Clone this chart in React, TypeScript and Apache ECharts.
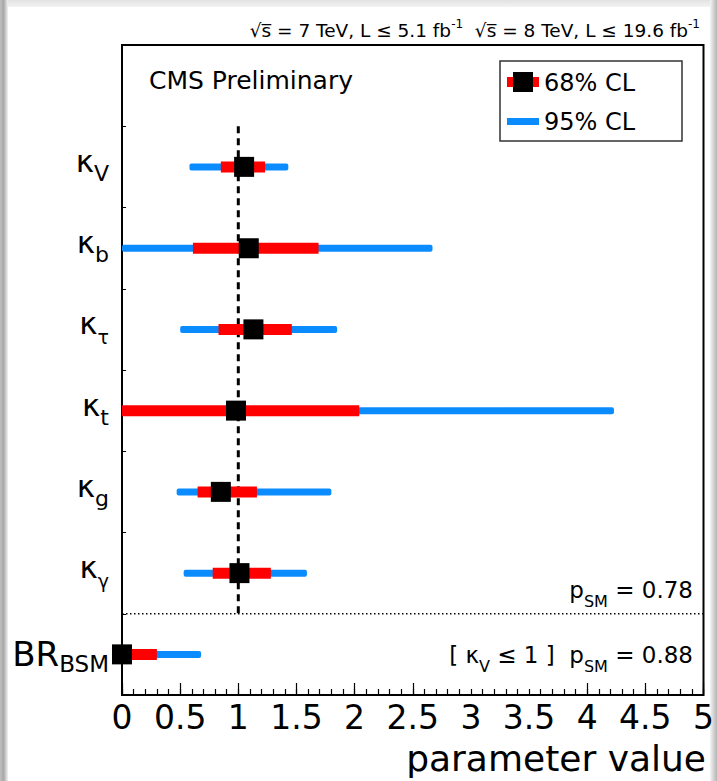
import React, { useEffect, useRef } from 'react';
import * as echarts from 'echarts';

// ---- data ----
const categories = ['kV', 'kb', 'ktau', 'kt', 'kg', 'kgamma', 'BRBSM'];
const labelMain = ['κ', 'κ', 'κ', 'κ', 'κ', 'κ', 'BR'];
const labelSub = ['V', 'b', 'τ', 't', 'g', 'γ', 'BSM'];
const bestFit = [1.05, 1.09, 1.13, 0.98, 0.85, 1.01, 0.0];
const lo68 = [0.85, 0.61, 0.83, 0.0, 0.65, 0.78, 0.0];
const hi68 = [1.23, 1.69, 1.46, 2.04, 1.16, 1.28, 0.3];
const lo95 = [0.58, 0.0, 0.5, 0.0, 0.47, 0.53, 0.0];
const hi95 = [1.43, 2.67, 1.85, 4.23, 1.8, 1.59, 0.68];
const majorTicks = [0, 0.5, 1, 1.5, 2, 2.5, 4, 4.5, 5];
const smValue = 1;
const pSM = ['0.78', '0.88'];
const xTitle = 'parameter value';

const FONT = 'DejaVu Sans';
const BLUE = '#0a8cff';
const RED = '#ff0000';

export default function App() {
  const ref = useRef<HTMLDivElement>(null);
  useEffect(() => {
    if (!ref.current) return;
    const chart = echarts.init(ref.current, null, { renderer: 'svg' });
    const nRows = categories.length;
    const rows = categories.map((_, i) => [i + 1.5, lo95[i], hi95[i], lo68[i], hi68[i], bestFit[i]]);
    const sepY = nRows; // boundary above last row
    const greek = (s: string) => /[α-ω]/.test(s);

    const option: any = {
      animation: false,
      backgroundColor: '#ffffff',
      grid: {
        left: 122, top: 45, width: 582, height: 650,
        show: true, borderColor: '#000', borderWidth: 2, backgroundColor: 'transparent',
      },
      xAxis: [
        {
          type: 'value', min: 0, max: 5, interval: 0.5, position: 'bottom',
          axisLine: { show: false, onZero: false }, splitLine: { show: false },
          axisTick: { show: true, inside: true, length: 12, lineStyle: { color: '#000', width: 1.2 }, customValues: majorTicks },
          axisLabel: { fontFamily: FONT, fontSize: 33, lineHeight: 30, color: '#000', margin: 7 },
        },
        {
          type: 'value', min: 0, max: 5, interval: 0.1, position: 'bottom',
          axisLine: { show: false, onZero: false }, splitLine: { show: false },
          axisTick: { show: true, inside: true, length: 6, lineStyle: { color: '#000', width: 1.2 } },
          axisLabel: { show: false },
        },
      ],
      yAxis: [
        { type: 'value', min: 0, max: nRows + 1, inverse: true, position: 'left', show: false },
        {
          type: 'category', data: ['', ...categories], inverse: true, position: 'left', boundaryGap: true,
          axisLine: { show: false },
          axisTick: { show: true, inside: true, length: 4, lineStyle: { color: '#000', width: 1 } },
          axisLabel: {
            interval: 0, margin: 13,
            formatter: (value: string) => {
              const i = categories.indexOf(value);
              if (i < 0) return '';
              if (labelMain[i] === 'BR') return `{b|${labelMain[i]}}{bs|${labelSub[i]}}`;
              if (greek(labelSub[i])) return `{k|${labelMain[i]}}{g|${labelSub[i]}}`;
              return `{k|${labelMain[i]}}{s|${labelSub[i]}}`;
            },
            rich: {
              k: { fontFamily: FONT, fontSize: 31, lineHeight: 31, padding: [0, 0, 12, 0], color: '#000' },
              s: { fontFamily: FONT, fontSize: 22, lineHeight: 22, padding: [17, 0, 4, 0], color: '#000' },
              g: { fontFamily: FONT, fontSize: 19, lineHeight: 19, padding: [20, 0, 4, 0], color: '#000' },
              b: { fontFamily: FONT, fontSize: 34, lineHeight: 34, padding: [4, 0, 5, 0], color: '#000' },
              bs: { fontFamily: FONT, fontSize: 23, lineHeight: 23, padding: [20, 0, 0, 0], color: '#000' },
            },
          },
        },
      ],
      series: [
        {
          type: 'line', xAxisIndex: 0, yAxisIndex: 0, symbol: 'none', silent: true, z: 1,
          data: [[smValue, 1], [smValue, sepY]],
          lineStyle: { color: '#000', width: 3, type: [7, 5] },
        },
        {
          type: 'line', xAxisIndex: 0, yAxisIndex: 0, symbol: 'none', silent: true, z: 1,
          data: [[0, sepY], [5, sepY]],
          lineStyle: { color: '#000', width: 1.5, type: [1.5, 2.5] },
        },
        {
          type: 'custom', xAxisIndex: 0, yAxisIndex: 0, clip: false, z: 3,
          data: rows,
          encode: { x: [1, 2, 3, 4, 5], y: 0 },
          renderItem: (params: any, api: any) => {
            const y = api.value(0);
            const a = api.coord([api.value(1), y]);
            const b = api.coord([api.value(2), y]);
            const c = api.coord([api.value(3), y]);
            const d = api.coord([api.value(4), y]);
            const m = api.coord([api.value(5), y]);
            return {
              type: 'group',
              children: [
                { type: 'rect', shape: { x: a[0], y: a[1] - 3.5, width: b[0] - a[0], height: 7, r: 2 }, style: { fill: BLUE } },
                { type: 'rect', shape: { x: c[0], y: c[1] - 5.5, width: d[0] - c[0], height: 11 }, style: { fill: RED } },
                { type: 'rect', shape: { x: m[0] - 10, y: m[1] - 10, width: 20, height: 20 }, style: { fill: '#000' } },
              ],
            };
          },
        },
      ],
      graphic: [
        // page edge shading
        { type: 'rect', silent: true, z: 0, shape: { x: 0, y: 0, width: 717, height: 7 },
          style: { fill: new echarts.graphic.LinearGradient(0, 0, 0, 1, [{ offset: 0, color: '#e2e2e2' }, { offset: 1, color: '#f3f3f3' }]) } },
        { type: 'rect', silent: true, z: 0, shape: { x: 0, y: 0, width: 8, height: 781 },
          style: { fill: new echarts.graphic.LinearGradient(0, 0, 1, 0, [{ offset: 0, color: '#c0c0c0' }, { offset: 0.45, color: '#a8a8a8' }, { offset: 1, color: '#f2f2f2' }]) } },
        { type: 'rect', silent: true, z: 0, shape: { x: 710, y: 0, width: 7, height: 781 },
          style: { fill: new echarts.graphic.LinearGradient(0, 0, 1, 0, [{ offset: 0, color: '#f4f4f4' }, { offset: 1, color: '#b4b4b4' }]) } },
        // energy / luminosity label
        {
          type: 'text', x: 700, y: 30, z: 10,
          style: {
            text: '{t|√s\u0305 = 7 TeV, L ≤ 5.1 fb}{u|-1}{t|  √s\u0305 = 8 TeV, L ≤ 19.6 fb}{u|-1}',
            align: 'right', verticalAlign: 'middle', fill: '#000',
            rich: {
              t: { fontFamily: FONT, fontSize: 18.5, lineHeight: 19, padding: [3, 0, 3, 0], fill: '#000' },
              u: { fontFamily: FONT, fontSize: 12, lineHeight: 12, padding: [0, 0, 13, 0], fill: '#000' },
            },
          },
        },
        // CMS Preliminary
        { type: 'text', x: 149, y: 80, z: 10, style: { text: 'CMS Preliminary', fontFamily: FONT, fontSize: 25, fill: '#000', align: 'left', verticalAlign: 'middle' } },
        // x axis title
        { type: 'text', x: 706, y: 758, z: 10, style: { text: xTitle, fontFamily: FONT, fontSize: 36, lineHeight: 34, fill: '#000', align: 'right', verticalAlign: 'middle' } },
        // legend
        { type: 'rect', z: 10, shape: { x: 500, y: 61, width: 182, height: 80 }, style: { fill: '#fff', stroke: '#333', lineWidth: 1.5 } },
        { type: 'rect', z: 11, shape: { x: 507, y: 77, width: 32, height: 10 }, style: { fill: RED } },
        { type: 'rect', z: 12, shape: { x: 513, y: 72, width: 20, height: 20 }, style: { fill: '#000' } },
        { type: 'text', x: 544, y: 83, z: 12, style: { text: '68% CL', fontFamily: FONT, fontSize: 24, fill: '#000', align: 'left', verticalAlign: 'middle' } },
        { type: 'rect', z: 11, shape: { x: 507, y: 118, width: 32, height: 7 }, style: { fill: BLUE } },
        { type: 'text', x: 544, y: 122, z: 12, style: { text: '95% CL', fontFamily: FONT, fontSize: 24, fill: '#000', align: 'left', verticalAlign: 'middle' } },
        // p-values
        {
          type: 'text', x: 693, y: 594, z: 10,
          style: {
            text: `{a|p}{b|SM}{a| = ${pSM[0]}}`, align: 'right', verticalAlign: 'middle', fill: '#000',
            rich: {
              a: { fontFamily: FONT, fontSize: 23, lineHeight: 23, padding: [0, 0, 8, 0], fill: '#000' },
              b: { fontFamily: FONT, fontSize: 16, lineHeight: 16, padding: [15, 0, 0, 0], fill: '#000' },
            },
          },
        },
        {
          type: 'text', x: 693, y: 659, z: 10,
          style: {
            text: `{a|[ κ}{b|V}{a| ≤ 1 ]  p}{b|SM}{a| = ${pSM[1]}}`, align: 'right', verticalAlign: 'middle', fill: '#000',
            rich: {
              a: { fontFamily: FONT, fontSize: 23, lineHeight: 23, padding: [0, 0, 8, 0], fill: '#000' },
              b: { fontFamily: FONT, fontSize: 16, lineHeight: 16, padding: [15, 0, 0, 0], fill: '#000' },
            },
          },
        },
      ],
    };
    chart.setOption(option);
    return () => chart.dispose();
  }, []);
  return <div ref={ref} style={{ position: 'absolute', left: 0, top: 0, width: 717, height: 781 }} />;
}
